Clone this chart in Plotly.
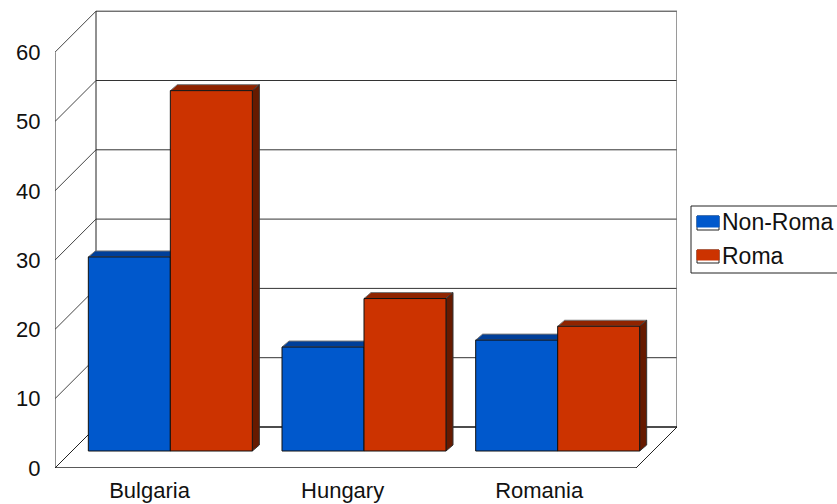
import plotly.graph_objects as go

categories = ["Bulgaria", "Hungary", "Romania"]
series_names = ["Non-Roma", "Roma"]
non_roma = [28, 15, 16]
roma = [52, 22, 18]
y_ticks = [0, 10, 20, 30, 40, 50, 60]

W, H = 837, 504
L, R, T, B = 55, 160, 10, 36
PX_X = 193.67   # px per category
PX_Y = 6.93     # px per value unit
WALL_DX = 41 / PX_X
WALL_DY = 41 / PX_Y
BAR_DX = 18.5 / PX_X
BAR_BASE = 17 / PX_Y
BAR_W = 82 / PX_X
CAP_DX = 7 / PX_X
CAP_DY = 6 / PX_Y
X0, X1 = -0.5, 2.5
xrange_ = [X0, X0 + (W - L - R) / PX_X]
yrange_ = [0, (H - T - B) / PX_Y]
BLUE, BLUE_TOP, BLUE_SIDE = "#0058CC", "#003F99", "#002C6B"
RED, RED_TOP, RED_SIDE = "#CC3300", "#8F2400", "#661A00"
FONT = "Liberation Sans, Arial, sans-serif"


def path(points):
    return "M " + " L ".join(f"{x:.4f} {y:.4f}" for x, y in points) + " Z"


def line(x0, y0, x1, y1, color="#222222", width=1):
    return dict(type="line", xref="x", yref="y", x0=x0, y0=y0, x1=x1, y1=y1,
                layer="below", line=dict(color=color, width=width))


def face(points, fill, color="#333333"):
    return dict(type="path", xref="x", yref="y", path=path(points), layer="below",
                fillcolor=fill, line=dict(color=color, width=1))


def px_x(px):
    return (px - L) / (W - L - R)


def px_y(py):
    return (H - B - py) / (H - T - B)


def box(x0, y0, x1, y1, fill, color="#222222"):
    return dict(type="rect", xref="paper", yref="paper", x0=px_x(x0), x1=px_x(x1),
                y0=px_y(y0), y1=px_y(y1), fillcolor=fill, line=dict(color=color, width=1))


shapes = []
top = y_ticks[-1]
for t in y_ticks[1:]:
    shapes.append(line(X0, t, X0 + WALL_DX, t + WALL_DY, "#444444"))
    shapes.append(line(X0 + WALL_DX, t + WALL_DY, X1 + WALL_DX, t + WALL_DY, "#333333"))
shapes += [
    line(X0, 0, X0, top),
    line(X0 + WALL_DX, WALL_DY, X0 + WALL_DX, top + WALL_DY),
    line(X1 + WALL_DX, WALL_DY, X1 + WALL_DX, top + WALL_DY, "#777777", 1.5),
    line(X0, 0, X1, 0, "#222222", 1.5),
    line(X1, 0, X1 + WALL_DX, WALL_DY),
    line(X0, 0, X0 + WALL_DX, WALL_DY),
    line(X0 + WALL_DX, WALL_DY, X1 + WALL_DX, WALL_DY, "#111111", 1.5),
]

for i in range(len(categories)):
    c = i + BAR_DX
    for left, val, ftop, fside in [
        (c - BAR_W, non_roma[i], BLUE_TOP, BLUE_SIDE),
        (c, roma[i], RED_TOP, RED_SIDE),
    ]:
        h = BAR_BASE + val
        r = left + BAR_W
        shapes.append(face([(left, h), (left + CAP_DX, h + CAP_DY),
                            (r + CAP_DX, h + CAP_DY), (r, h)], ftop, "#777777"))
        shapes.append(face([(r, BAR_BASE), (r + CAP_DX, BAR_BASE + CAP_DY),
                            (r + CAP_DX, h + CAP_DY), (r, h)], fside, "#333333"))

shapes.append(box(691, 206, 860, 273, "white"))
shapes.append(box(697, 216, 719, 230, "white"))
shapes.append(box(697, 216, 719, 227, BLUE, BLUE))
shapes.append(box(697, 250, 719, 263, "white"))
shapes.append(box(697, 250, 719, 260, RED, RED))

annotations = [
    dict(xref="paper", yref="paper", x=px_x(720), y=px_y(ypx), text=name, showarrow=False,
         xanchor="left", yanchor="middle", font=dict(family=FONT, size=23, color="#111111"))
    for name, ypx in zip(series_names, [222, 256])
]

xs = [i + BAR_DX for i in range(len(categories))]
fig = go.Figure()
fig.add_bar(name=series_names[0], x=xs, y=non_roma, base=BAR_BASE, width=BAR_W, offset=-BAR_W,
            marker=dict(color=BLUE, line=dict(color="#111111", width=1)), showlegend=False)
fig.add_bar(name=series_names[1], x=xs, y=roma, base=BAR_BASE, width=BAR_W, offset=0,
            marker=dict(color=RED, line=dict(color="#111111", width=1)), showlegend=False)

fig.update_layout(
    width=W, height=H, autosize=False,
    margin=dict(l=L, r=R, t=T, b=B, pad=0),
    paper_bgcolor="white", plot_bgcolor="white",
    font=dict(family=FONT, size=22, color="#111111"),
    barmode="overlay",
    showlegend=False,
    shapes=shapes,
    annotations=annotations,
    xaxis=dict(range=xrange_, tickmode="array", tickvals=[-0.012, 0.985, 2], ticktext=categories,
               automargin=False, showgrid=False, zeroline=False, showline=False,
               ticks="outside", ticklen=3, tickcolor="white"),
    yaxis=dict(range=yrange_, tickmode="array", tickvals=y_ticks,
               automargin=False, showgrid=False, zeroline=False, showline=False,
               ticks="outside", ticklen=9, tickcolor="white"),
)
fig.write_html("out.html", config={"displayModeBar": False},
               post_script="document.body.style.margin='0';")
